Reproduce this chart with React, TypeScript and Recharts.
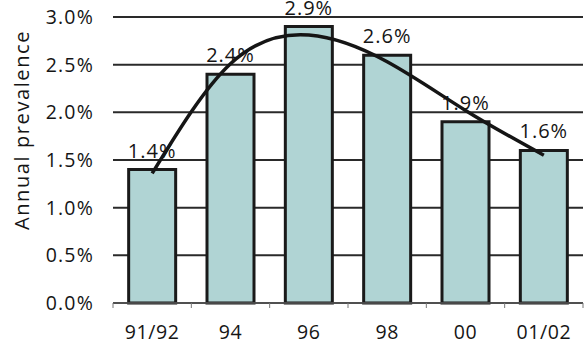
import { Bar, Line, XAxis, YAxis, CartesianGrid, LabelList, ComposedChart } from "recharts";

const years = ["91/92", "94", "96", "98", "00", "01/02"];
const prevalence = [1.4, 2.4, 2.9, 2.6, 1.9, 1.6];
// smoothed trend at each category centre
const trend = [1.36, 2.51, 2.81, 2.53, 2.02, 1.55];
const yTicks = [0, 0.5, 1, 1.5, 2, 2.5, 3];

const data = years.map((year, i) => ({
  year,
  value: prevalence[i],
  trend: trend[i],
}));

const FONT = "'Open Sans', sans-serif";
const INK = "#151515";

const XTick = (props: any) => {
  const { x, y, payload, index, width, visibleTicksCount } = props;
  const half =
    payload && typeof payload.offset === "number" && payload.offset > 0
      ? payload.offset
      : width / visibleTicksCount / 2;
  const last = index === visibleTicksCount - 1;
  return (
    <g>
      <line x1={x - half} x2={x - half} y1={y} y2={y + 5} stroke="#777" strokeWidth={1} />
      {last && <line x1={x + half} x2={x + half} y1={y} y2={y + 5} stroke="#777" strokeWidth={1} />}
      <text
        x={x}
        y={y + 36}
        textAnchor="middle"
        fill={INK}
        fontSize={19.5}
        fontFamily={FONT}
        style={{ letterSpacing: "0.6px" }}
      >
        {payload.value}
      </text>
    </g>
  );
};

const YLabel = () => (
  <text
    transform="translate(29,130) rotate(-90)"
    textAnchor="middle"
    fill={INK}
    fontSize={20}
    fontFamily={FONT}
    style={{ letterSpacing: "1.6px" }}
  >
    Annual prevalence
  </text>
);

export default function App() {
  return (
    <div style={{ position: "absolute", left: 0, top: 0, width: 584, height: 347, background: "#fff" }}>
      <ComposedChart
        width={584}
        height={347}
        data={data}
        margin={{ top: 17, right: 1, left: 0, bottom: 0 }}
        barCategoryGap="20%"
      >
        <CartesianGrid vertical={false} stroke="#2a2a2a" strokeWidth={2} />
        <XAxis
          dataKey="year"
          height={44}
          tickSize={0}
          tickMargin={0}
          tickLine={false}
          axisLine={{ stroke: "#777", strokeWidth: 1 }}
          tick={<XTick />}
          interval={0}
        />
        <YAxis
          width={113}
          domain={[0, 3]}
          ticks={yTicks}
          tickFormatter={(v: number) => v.toFixed(1) + "%"}
          axisLine={false}
          tickLine={false}
          tickSize={0}
          tickMargin={19}
          tick={{ fill: INK, fontSize: 19.5, fontFamily: FONT, letterSpacing: "1.2px" }}
          label={{ content: <YLabel /> }}
        />
        <Bar dataKey="value" fill="#b0d4d4" stroke="#1a1a1a" strokeWidth={3} isAnimationActive={false}>
          <LabelList
            dataKey="value"
            position="top"
            offset={12}
            formatter={(v: any) => Number(v).toFixed(1) + "%"}
            style={{ fill: INK, fontSize: 20, fontFamily: FONT, letterSpacing: "1px" }}
          />
        </Bar>
        <Line
          type="natural"
          dataKey="trend"
          stroke="#151515"
          strokeWidth={3.5}
          dot={false}
          activeDot={false}
          isAnimationActive={false}
        />
      </ComposedChart>
    </div>
  );
}
